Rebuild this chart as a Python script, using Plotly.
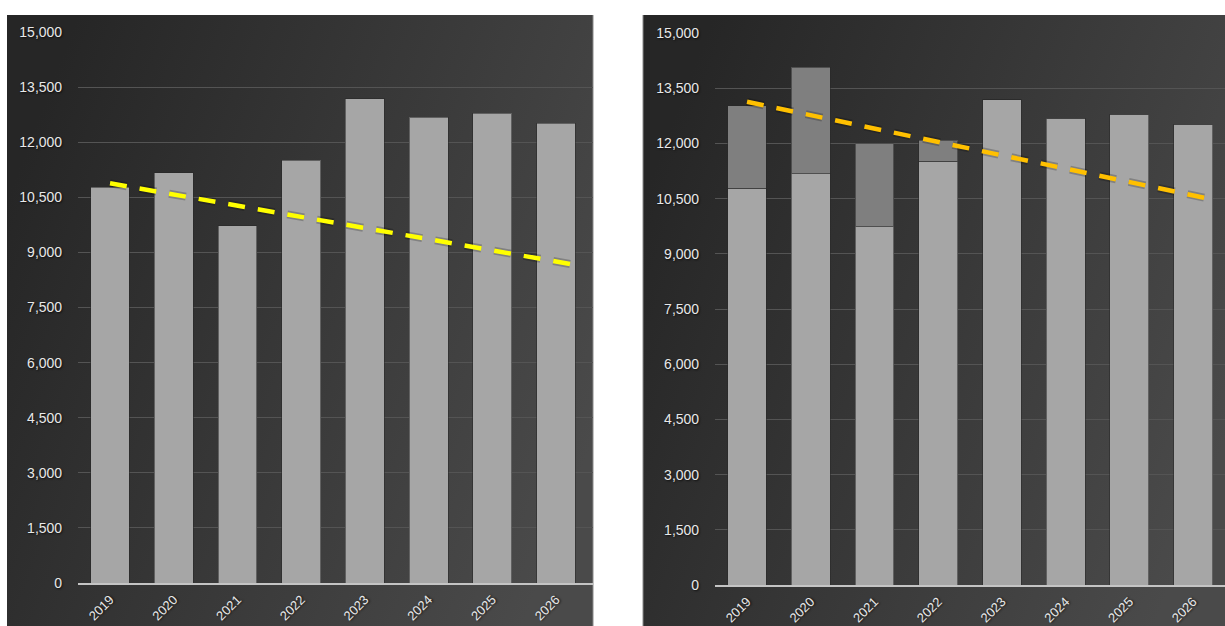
import base64
import plotly.graph_objects as go

# ---------------- data ----------------
years = ["2019", "2020", "2021", "2022", "2023", "2024", "2025", "2026"]
base_values = [10780, 11170, 9730, 11510, 13180, 12680, 12790, 12520]
extra_values = [2240, 2900, 2280, 570, 0, 0, 0, 0]

left_trend_x = [0, 7.35]
left_trend_y = [10880, 8645]
right_trend_x = [0, 7.35]
right_trend_y = [13130, 10460]

y_ticks = list(range(0, 15001, 1500))

# ---------------- geometry ----------------
W, H = 1225, 626
xpos = list(range(len(years)))


def px_x(v):
    return v / W


def px_y(v):
    return 1 - v / H


def grad_svg(w, h, c0, c1):
    svg = (
        f'<svg xmlns="http://www.w3.org/2000/svg" width="{w}" height="{h}" '
        f'viewBox="0 0 {w} {h}" preserveAspectRatio="none">'
        '<defs><linearGradient id="g" x1="0" y1="0.3" x2="1" y2="0.7">'
        f'<stop offset="0" stop-color="{c0}"/><stop offset="1" stop-color="{c1}"/>'
        '</linearGradient></defs>'
        f'<rect x="0" y="0" width="{w}" height="{h}" fill="url(#g)"/></svg>'
    )
    return "data:image/svg+xml;base64," + base64.b64encode(svg.encode()).decode()


fig = go.Figure()

bar_color = "#a6a6a6"
extra_color = "#7f7f7f"
bar_line = dict(color="rgba(40,40,40,0.55)", width=1)
dash = "17px,13px"

# left panel
fig.add_trace(go.Bar(x=xpos, y=base_values, marker=dict(color=bar_color, line=bar_line),
                     width=0.61, xaxis="x", yaxis="y", showlegend=False, hoverinfo="skip"))
fig.add_trace(go.Scatter(x=left_trend_x, y=left_trend_y, mode="lines",
                         line=dict(color="rgba(0,0,0,0.22)", width=8, dash=dash),
                         xaxis="x", yaxis="y", showlegend=False, hoverinfo="skip"))
fig.add_trace(go.Scatter(x=left_trend_x, y=left_trend_y, mode="lines",
                         line=dict(color="#ffff00", width=4.5, dash=dash),
                         xaxis="x", yaxis="y", showlegend=False, hoverinfo="skip"))

# right panel
fig.add_trace(go.Bar(x=xpos, y=base_values, marker=dict(color=bar_color, line=bar_line),
                     width=0.61, xaxis="x2", yaxis="y2", showlegend=False, hoverinfo="skip"))
fig.add_trace(go.Bar(x=xpos, y=extra_values, marker=dict(color=extra_color, line=bar_line),
                     width=0.61, xaxis="x2", yaxis="y2", showlegend=False, hoverinfo="skip"))
fig.add_trace(go.Scatter(x=right_trend_x, y=right_trend_y, mode="lines",
                         line=dict(color="rgba(0,0,0,0.22)", width=8, dash=dash),
                         xaxis="x2", yaxis="y2", showlegend=False, hoverinfo="skip"))
fig.add_trace(go.Scatter(x=right_trend_x, y=right_trend_y, mode="lines",
                         line=dict(color="#ffc000", width=4.5, dash=dash),
                         xaxis="x2", yaxis="y2", showlegend=False, hoverinfo="skip"))

ytick_font = dict(family="Liberation Sans, Arial, sans-serif", size=14, color="#e8e8e8",
                  shadow="1px 1px 2px rgba(0,0,0,0.7)")
xtick_font = dict(family="Liberation Sans, Arial, sans-serif", size=13, color="#e8e8e8",
                  shadow="1px 1px 2px rgba(0,0,0,0.7)")

xaxis_common = dict(
    tickmode="array", tickvals=xpos, ticktext=years, tickangle=-45,
    showgrid=False, zeroline=False, showline=True, linecolor="#c4c4c4", linewidth=2,
    ticks="", tickfont=xtick_font, ticklabelstandoff=2, fixedrange=True, automargin=False,
)
yaxis_common = dict(
    range=[0, 15000], tickmode="array", tickvals=y_ticks,
    ticktext=[f"{v:,}" for v in y_ticks], showgrid=True, gridcolor="#545454", gridwidth=1,
    zeroline=False, showline=False, ticks="", tickfont=ytick_font,
    ticklabelstandoff=15, fixedrange=True, automargin=False,
)

fig.update_layout(
    width=W, height=H, margin=dict(l=0, r=0, t=0, b=0, pad=0, autoexpand=False),
    paper_bgcolor="white", plot_bgcolor="rgba(0,0,0,0)",
    barmode="stack", bargap=0.39,
    xaxis=dict(domain=[px_x(78.15), px_x(593)], range=[-0.5, 7.58], anchor="y", **xaxis_common),
    yaxis=dict(domain=[px_y(583), px_y(32)], anchor="x", **yaxis_common),
    xaxis2=dict(domain=[px_x(715.15), 1.0], range=[-0.5, 7.5], anchor="y2", **xaxis_common),
    yaxis2=dict(domain=[px_y(585), px_y(33)], anchor="x2", **yaxis_common),
    images=[
        dict(source=grad_svg(586, 611, "#262626", "#4a4a4a"), xref="paper", yref="paper",
             x=px_x(7), y=px_y(15), sizex=(593 - 7) / W, sizey=611 / H,
             xanchor="left", yanchor="top", sizing="stretch", layer="below"),
        dict(source=grad_svg(582, 611, "#262626", "#4a4a4a"), xref="paper", yref="paper",
             x=px_x(643), y=px_y(15), sizex=(1225 - 643) / W, sizey=611 / H,
             xanchor="left", yanchor="top", sizing="stretch", layer="below"),
    ],
    shapes=[
        dict(type="line", xref="paper", yref="paper", x0=px_x(593), x1=px_x(593),
             y0=0, y1=px_y(15), line=dict(color="#8a8a8a", width=1), layer="below"),
        dict(type="line", xref="paper", yref="paper", x0=px_x(643), x1=px_x(643),
             y0=0, y1=px_y(15), line=dict(color="#8a8a8a", width=1), layer="below"),
    ],
)

fig.write_html("out.html")
